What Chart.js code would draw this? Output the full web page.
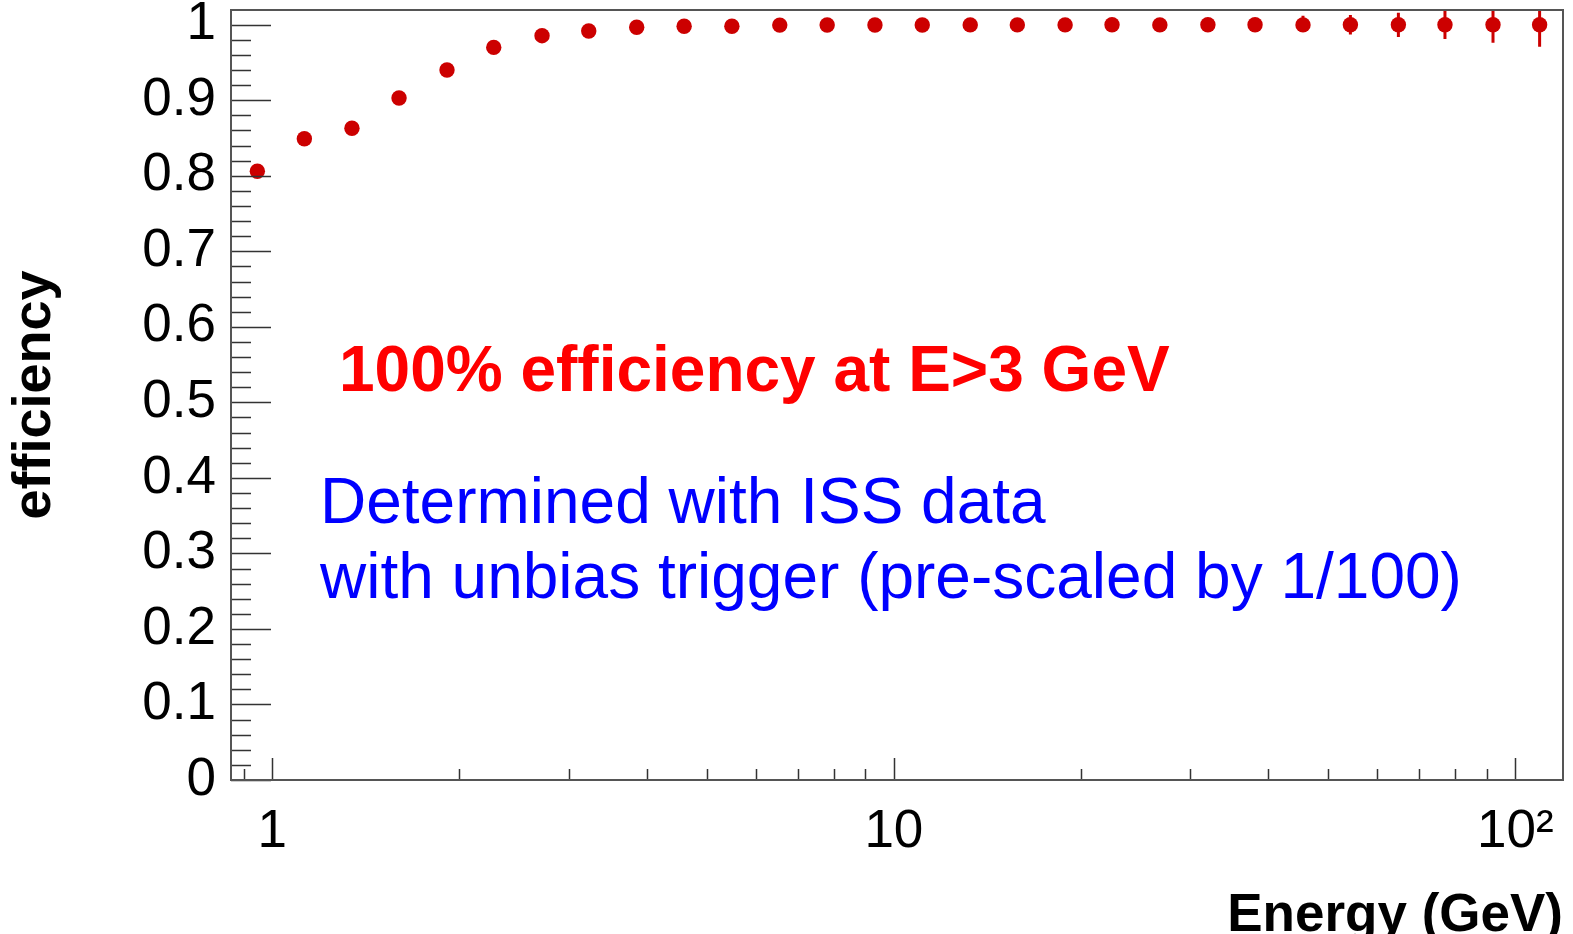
<!DOCTYPE html>
<html>
<head>
<meta charset="utf-8">
<title>Trigger efficiency vs energy</title>
<script src="https://cdn.jsdelivr.net/npm/chart.js@4/dist/chart.umd.min.js"></script>
<style>
    html, body { margin: 0; padding: 0; background: #ffffff; }
    #chart-box { position: relative; width: 1573px; height: 934px; }
</style>
</head>
<body>
<div id="chart-box"><canvas id="efficiency-chart"></canvas></div>
<script>
// Energy bin centres (GeV)
const energies = [
    0.946, 1.126, 1.343, 1.599, 1.910, 2.271, 2.716, 3.229, 3.857, 4.598,
    5.488, 6.553, 7.811, 9.324, 11.11, 13.27, 15.80, 18.86, 22.44, 26.79,
    32.01, 38.12, 45.53, 54.27, 64.83, 77.04, 92.05, 109.4
];

// Measured trigger efficiency per bin
const efficiency = [
    0.806, 0.849, 0.863, 0.903, 0.940, 0.970, 0.9855, 0.9917, 0.9966, 0.998,
    0.998, 0.9995, 0.9996, 0.9997, 0.9997, 0.9998, 0.9998, 0.9998, 0.9999, 0.9998,
    0.9999, 0.9999, 0.9998, 0.9999, 0.9999, 1.0, 1.0, 1.0
];

// Statistical errors (upper / lower)
const errUp = [
    0.006, 0.005, 0.005, 0.004, 0.004, 0.003, 0.002, 0.002, 0.002, 0.001,
    0.001, 0.001, 0.001, 0.001, 0.001, 0.001, 0.002, 0.002, 0.003, 0.004,
    0.005, 0.007, 0.012, 0.013, 0.016, 0.021, 0.025, 0.030
];
const errDown = [
    0.006, 0.005, 0.005, 0.004, 0.004, 0.003, 0.002, 0.002, 0.002, 0.001,
    0.001, 0.001, 0.001, 0.001, 0.001, 0.001, 0.002, 0.002, 0.003, 0.004,
    0.005, 0.007, 0.009, 0.013, 0.016, 0.019, 0.024, 0.029
];

// Axis ticks
const xMajorTicks = [1, 10, 100];
const xTickLabels = ['1', '10', '10²'];
const xMinorTicks = [0.9, 2, 3, 4, 5, 6, 7, 8, 9, 20, 30, 40, 50, 60, 70, 80, 90];
const yMajorTicks = [0, 0.1, 0.2, 0.3, 0.4, 0.5, 0.6, 0.7, 0.8, 0.9, 1];
const yTickLabels = ['0', '0.1', '0.2', '0.3', '0.4', '0.5', '0.6', '0.7', '0.8', '0.9', '1'];
const yMinorDivisions = 5;

const FONT = "'Liberation Sans', Arial, Helvetica, sans-serif";
const MARKER_RED = '#cc0000';

// ROOT-style frame with inward tick marks
const frameTicks = {
    id: 'frameTicks',
    afterDraw(chart) {
        const { ctx, chartArea: a, scales: { x, y } } = chart;
        ctx.save();
        ctx.strokeStyle = '#333333';
        ctx.lineWidth = 1.5;
        ctx.beginPath();

        // y ticks (left side)
        yMajorTicks.forEach((v, i) => {
            const py = Math.round(y.getPixelForValue(v)) + 0.5;
            ctx.moveTo(a.left, py);
            ctx.lineTo(a.left + 40, py);
            if (i < yMajorTicks.length - 1) {
                const step = (yMajorTicks[i + 1] - v) / yMinorDivisions;
                for (let k = 1; k < yMinorDivisions; k++) {
                    const my = Math.round(y.getPixelForValue(v + k * step)) + 0.5;
                    ctx.moveTo(a.left, my);
                    ctx.lineTo(a.left + 20, my);
                }
            }
        });

        // x ticks (bottom side)
        xMajorTicks.forEach(v => {
            const px = Math.round(x.getPixelForValue(v)) + 0.5;
            ctx.moveTo(px, a.bottom);
            ctx.lineTo(px, a.bottom - 22);
        });
        xMinorTicks.forEach(v => {
            const px = Math.round(x.getPixelForValue(v)) + 0.5;
            ctx.moveTo(px, a.bottom);
            ctx.lineTo(px, a.bottom - 11);
        });
        ctx.stroke();

        ctx.strokeStyle = '#555555';
        ctx.lineWidth = 2;
        ctx.strokeRect(a.left, a.top, a.right - a.left, a.bottom - a.top);
        ctx.restore();
    }
};

// Vertical error bars, clipped to the frame
const errorBars = {
    id: 'errorBars',
    beforeDatasetsDraw(chart) {
        const { ctx, chartArea: a, scales: { x, y } } = chart;
        ctx.save();
        ctx.beginPath();
        ctx.rect(a.left, a.top, a.right - a.left, a.bottom - a.top);
        ctx.clip();
        ctx.strokeStyle = MARKER_RED;
        ctx.lineWidth = 3;
        ctx.beginPath();
        energies.forEach((e, i) => {
            const px = x.getPixelForValue(e);
            ctx.moveTo(px, y.getPixelForValue(efficiency[i] + errUp[i]));
            ctx.lineTo(px, y.getPixelForValue(efficiency[i] - errDown[i]));
        });
        ctx.stroke();
        ctx.restore();
    }
};

// Text notes placed in data coordinates
const notes = [
    { lines: ['100% efficiency at E>3 GeV'], x: 1.28, y: 0.515, size: 64, weight: 'bold', color: '#ff0000' },
    { lines: ['Determined with ISS data', 'with unbias trigger (pre-scaled by 1/100)'], x: 1.193, y: 0.3403, size: 64, weight: 'normal', color: '#0000ff', lineGap: 75 }
];

const textNotes = {
    id: 'textNotes',
    afterDraw(chart) {
        const { ctx, scales: { x, y } } = chart;
        ctx.save();
        ctx.textAlign = 'left';
        ctx.textBaseline = 'alphabetic';
        notes.forEach(n => {
            ctx.font = n.weight + ' ' + n.size + 'px ' + FONT;
            ctx.fillStyle = n.color;
            const px = x.getPixelForValue(n.x);
            const py = y.getPixelForValue(n.y);
            n.lines.forEach((line, i) => {
                ctx.fillText(line, px, py + i * (n.lineGap || 0));
            });
        });
        ctx.restore();
    }
};

document.addEventListener('DOMContentLoaded', function() {
    const ctx = document.getElementById('efficiency-chart').getContext('2d');

    new Chart(ctx, {
        type: 'scatter',
        data: {
            datasets: [{
                label: 'efficiency',
                data: energies.map((e, i) => ({ x: e, y: efficiency[i] })),
                backgroundColor: MARKER_RED,
                borderColor: MARKER_RED,
                borderWidth: 0,
                pointRadius: 7.7,
                pointHoverRadius: 7.7
            }]
        },
        options: {
            responsive: true,
            maintainAspectRatio: false,
            animation: false,
            events: [],
            layout: { padding: { top: 10, right: 10, left: 0, bottom: 0 } },
            plugins: {
                legend: { display: false },
                tooltip: { enabled: false }
            },
            scales: {
                x: {
                    type: 'logarithmic',
                    min: 0.858,
                    max: 119.3,
                    grid: { display: false, drawTicks: false },
                    border: { display: false },
                    afterBuildTicks(scale) {
                        scale.ticks = xMajorTicks.map(v => ({ value: v, major: true }));
                    },
                    afterFit(scale) {
                        scale.height = 154;
                        scale.paddingLeft = 0;
                        scale.paddingRight = 0;
                    },
                    ticks: {
                        autoSkip: false,
                        maxRotation: 0,
                        padding: 21,
                        color: '#000000',
                        font: { family: FONT, size: 53 },
                        callback: function(value) {
                            const i = xMajorTicks.indexOf(value);
                            return i >= 0 ? xTickLabels[i] : '';
                        }
                    },
                    title: {
                        display: true,
                        text: 'Energy (GeV)',
                        align: 'end',
                        color: '#000000',
                        font: { family: FONT, size: 53, weight: 'bold' },
                        padding: { top: 0, bottom: -14 }
                    }
                },
                y: {
                    type: 'linear',
                    min: 0,
                    max: 1.0195,
                    grid: { display: false, drawTicks: false },
                    border: { display: false },
                    afterBuildTicks(scale) {
                        scale.ticks = yMajorTicks.map(v => ({ value: v }));
                    },
                    afterFit(scale) {
                        scale.width = 231;
                        scale.paddingTop = 0;
                        scale.paddingBottom = 0;
                    },
                    ticks: {
                        autoSkip: false,
                        padding: 15,
                        color: '#000000',
                        font: { family: FONT, size: 53 },
                        callback: function(value, index) {
                            return yTickLabels[index];
                        }
                    },
                    title: {
                        display: true,
                        text: 'efficiency',
                        color: '#000000',
                        font: { family: FONT, size: 54, weight: 'bold' },
                        padding: { top: 3, bottom: 0 }
                    }
                }
            }
        },
        plugins: [errorBars, frameTicks, textNotes]
    });
});
</script>
</body>
</html>
